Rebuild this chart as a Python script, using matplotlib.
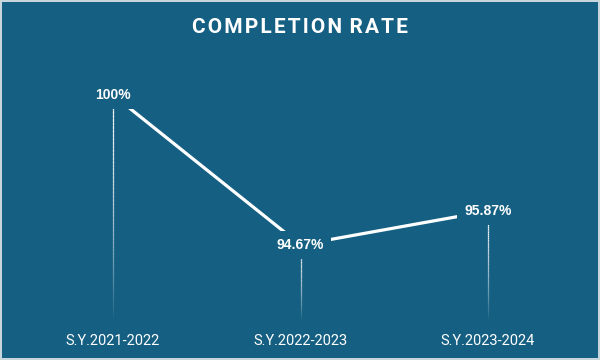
import numpy as np
import matplotlib.pyplot as plt
from matplotlib.collections import LineCollection

# data
years = ["S.Y.2021-2022", "S.Y.2022-2023", "S.Y.2023-2024"]
rate = [100.0, 94.67, 95.87]
rate_labels = ["100%", "94.67%", "95.87%"]
title = "COMPLETION RATE"

bg = "#155F82"
ymin, ymax = 92.0, 101.24

fig = plt.figure(figsize=(6, 3.6), dpi=100)
fig.patch.set_facecolor(bg)
fig.patch.set_edgecolor("#c9d5dd")
fig.patch.set_linewidth(1.5)

ax = fig.add_axes([0.0321, 0.1111, 0.9375, 0.7222])
ax.set_facecolor(bg)
x = np.arange(len(years))

# main line
ax.plot(x, rate, color="white", lw=2.3, solid_capstyle="butt", zorder=3)

# fading drop lines from each point down to the base
for xi, yi in zip(x, rate):
    ys = np.linspace(yi, ymin, 60)
    segs = [[(xi, ys[i]), (xi, ys[i + 1])] for i in range(len(ys) - 1)]
    t = np.linspace(0, 1, len(segs))
    cols = [(1, 1, 1, 0.95 * (1 - tt ** 1.6) + 0.03) for tt in t]
    ax.add_collection(LineCollection(segs, colors=cols, linewidths=0.9, zorder=2))

# value labels sitting on the points
for xi, yi, lab in zip(x, rate, rate_labels):
    ax.text(xi, yi, lab, ha="center", va="center", color="white",
            fontsize=10, fontweight="bold", family="Liberation Sans", zorder=5,
            bbox=dict(boxstyle="square,pad=0.5", fc=bg, ec="none"))

ax.set_xlim(-0.5, 2.5)
ax.set_ylim(ymin, ymax)
ax.set_xticks(x)
ax.set_xticklabels(years, color="white", fontsize=10.5, family="Roboto")
ax.tick_params(axis="x", length=0, pad=10)
ax.set_yticks([])
for s in ax.spines.values():
    s.set_visible(False)

# letter-spaced title
spaced = " \u200a".join("\u200a".join(w) for w in title.split(" "))
fig.text(0.5, 1 - 27.5 / 360, spaced, ha="center", va="center", color="white",
         fontsize=15, fontweight="bold", family="Roboto")

fig.savefig("out.png", dpi=100, facecolor=bg, edgecolor=fig.patch.get_edgecolor())
